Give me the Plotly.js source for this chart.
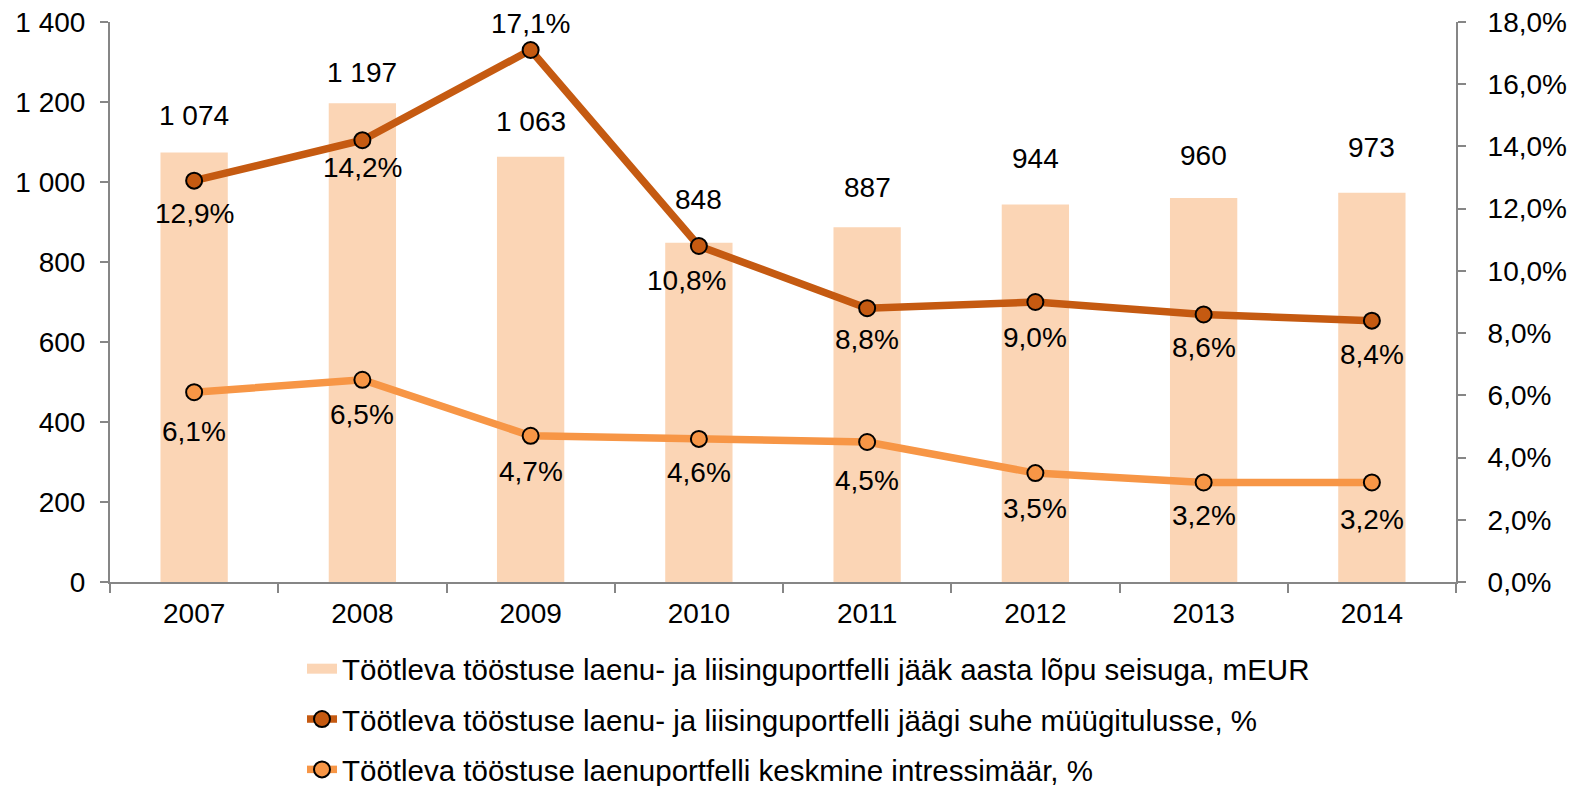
<!DOCTYPE html>
<html>
<head>
<meta charset="utf-8">
<script src="https://cdn.plot.ly/plotly-3.0.1.min.js"></script>
<style>html,body{margin:0;padding:0;background:#fff;}#chart{width:1571px;height:786px;}</style>
</head>
<body>
<div id="chart"></div>
<script>
const years = ['2007','2008','2009','2010','2011','2012','2013','2014'];
const portfolio = [1074, 1197, 1063, 848, 887, 944, 960, 973];
const ratioToSales = [12.9, 14.2, 17.1, 10.8, 8.8, 9.0, 8.6, 8.4];
const interestRate = [6.1, 6.5, 4.7, 4.6, 4.5, 3.5, 3.2, 3.2];
const seriesNames = [
  'Töötleva tööstuse laenu- ja liisinguportfelli jääk aasta lõpu seisuga, mEUR',
  'Töötleva tööstuse laenu- ja liisinguportfelli jäägi suhe müügitulusse, %',
  'Töötleva tööstuse laenuportfelli keskmine intressimäär, %'
];
const leftTicks = [0, 200, 400, 600, 800, 1000, 1200, 1400];
const rightTicks = [0, 2, 4, 6, 8, 10, 12, 14, 16, 18];

const barColor = '#FBD5B5';
const darkColor = '#C55A11';
const lightColor = '#F79646';
const font = 'Liberation Sans, Arial, sans-serif';
const fs = 28;

function fmtInt(v){ return String(v).replace(/\B(?=(\d{3})+(?!\d))/g, ' '); }
function fmtPct(v){ return v.toFixed(1).replace('.', ',') + '%'; }

const traces = [
  {type:'bar', x:years, y:portfolio, name:seriesNames[0], marker:{color:barColor},
   width:0.4, yaxis:'y', showlegend:false, hoverinfo:'skip'},
  {type:'scatter', mode:'lines', x:[null], y:[null], name:seriesNames[0], yaxis:'y',
   line:{color:barColor, width:16}, legendgroup:'a', showlegend:true, hoverinfo:'skip'},
  {type:'scatter', mode:'lines+markers', x:years, y:ratioToSales, name:seriesNames[1],
   yaxis:'y2', line:{color:darkColor, width:7.5},
   marker:{size:16, color:darkColor, line:{color:'#000', width:2}}, legendgroup:'b', hoverinfo:'skip'},
  {type:'scatter', mode:'lines+markers', x:years, y:interestRate, name:seriesNames[2],
   yaxis:'y2', line:{color:lightColor, width:7.5},
   marker:{size:16, color:lightColor, line:{color:'#000', width:2}}, legendgroup:'c', hoverinfo:'skip'}
];

const annotations = [];
const barShift = [37, 31, 35, 43, 40, 46, 43, 45];
portfolio.forEach((v,i)=>annotations.push({x:i, y:v, xref:'x', yref:'y', text:fmtInt(v), showarrow:false, yshift:barShift[i]}));
const darkShiftY = [-33, -27, 27, -34, -31, -35, -33, -34];
const darkShiftX = [0, 0, 0, -12, 0, 0, 0, 0];
ratioToSales.forEach((v,i)=>annotations.push({x:i, y:v, xref:'x', yref:'y2', text:fmtPct(v), showarrow:false, yshift:darkShiftY[i], xshift:darkShiftX[i]}));
const lightShiftY = [-39, -35, -36, -34, -38, -35, -33, -37];
interestRate.forEach((v,i)=>annotations.push({x:i, y:v, xref:'x', yref:'y2', text:fmtPct(v), showarrow:false, yshift:lightShiftY[i]}));

const axisCommon = {ticks:'outside', tickwidth:2, tickcolor:'#868686', showline:true, linecolor:'#868686',
  linewidth:2, showgrid:false, zeroline:false, tickfont:{size:fs, family:font}, fixedrange:true, automargin:false};

const layout = {
  width:1571, height:786,
  margin:{l:110, r:115, t:22, b:204},
  paper_bgcolor:'#fff', plot_bgcolor:'#fff',
  separators:', ',
  font:{family:font, size:fs, color:'#000'},
  showlegend:true,
  xaxis:Object.assign({}, axisCommon, {type:'category', range:[-0.5, 7.5], autorange:false,
    tickson:'boundaries', ticklen:9, tickangle:0, ticklabelstandoff:5}),
  yaxis:Object.assign({}, axisCommon, {range:[0,1400], autorange:false, tickvals:leftTicks,
    ticktext:leftTicks.map(fmtInt), ticklen:8, ticklabelstandoff:9}),
  yaxis2:Object.assign({}, axisCommon, {overlaying:'y', side:'right', range:[0,18], autorange:false,
    tickvals:rightTicks, ticktext:rightTicks.map(v=>fmtPct(v)), ticklen:8, ticklabelstandoff:16}),
  legend:{orientation:'v', xref:'paper', yref:'container', x:(302-110)/1346, xanchor:'left',
    y:(786-643)/786, yanchor:'top', traceorder:'grouped',
    tracegroupgap:9, font:{size:29.5, family:font}, bgcolor:'rgba(0,0,0,0)'},
  annotations:annotations
};

Plotly.newPlot('chart', traces, layout, {displayModeBar:false, staticPlot:true});
</script>
</body>
</html>
